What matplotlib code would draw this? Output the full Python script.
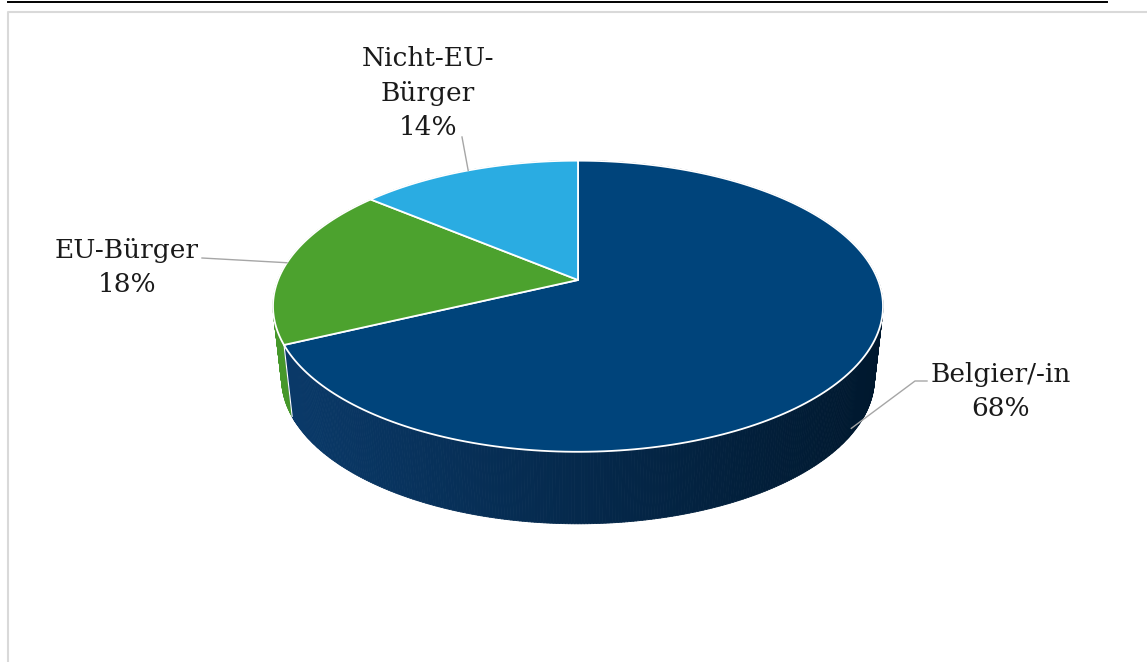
import numpy as np
import matplotlib.pyplot as plt
from matplotlib.collections import PolyCollection
from matplotlib.patches import Polygon
from matplotlib.colors import to_rgb

# share of residents by nationality (percent)
categories = ["Belgier/-in", "EU-Bürger", "Nicht-EU-Bürger"]
shares = [68, 18, 14]
label_lines = [["Belgier/-in"], ["EU-Bürger"], ["Nicht-EU-", "Bürger"]]

top_colors = ["#00447b", "#4ca22e", "#2aace2"]
side_colors = [("#0a3a6a", "#00182e"), ("#46982a", "#2f6e1c"), ("#2599cb", "#1a6e94")]

# label placement: centre x, first baseline, leader elbow, anchor height on the side
label_pos = [(1001, 382), (127, 258), (428, 66)]
leader_start = [[(927, 381), (915, 381)], [(202, 258)], [(462, 137)]]
anchor_drop = [0.9, 0.0, 0.0]

W, H = 1147, 662
fig = plt.figure(figsize=(W / 100, H / 100), dpi=100)
ax = fig.add_axes([0, 0, 1, 1])
ax.set_xlim(0, W)
ax.set_ylim(H, 0)
ax.axis("off")

# perspective of the 3-D pie
CX, CY = 578, 280
FOCAL, DIST, TILT = 1470.0, 4.9, np.radians(28)
DEPTH, SHRINK = 72.0, 0.972


def rim(theta):
    # point on the top rim, theta in degrees clockwise from 12 o'clock
    t = np.radians(theta)
    X, Z = np.sin(t), np.cos(t)
    z = DIST + np.cos(TILT) * Z
    return CX + FOCAL * X / z, CY - FOCAL * np.sin(TILT) * Z / z


def base(theta):
    x, y = rim(theta)
    return CX + (x - CX) * SHRINK, y + DEPTH


def mix(c1, c2, t):
    a, b = np.array(to_rgb(c1)), np.array(to_rgb(c2))
    return a + (b - a) * np.clip(t, 0, 1)


bounds = np.concatenate([[0], np.cumsum(shares)]) / sum(shares) * 360

# side walls, back slices first
for i in [2, 1, 0]:
    a, b = bounds[i], bounds[i + 1]
    th = np.append(np.arange(a, b, 0.5), b)
    tx, ty = rim(th)
    bx, by = base(th)
    quads, cols = [], []
    for k in range(len(th) - 1):
        quads.append([(tx[k], ty[k]), (tx[k + 1], ty[k + 1]),
                      (bx[k + 1], by[k + 1]), (bx[k], by[k])])
        frac = ((tx[k] + tx[k + 1]) / 2 - 272) / 612
        cols.append(mix(side_colors[i][0], side_colors[i][1], frac))
    pc = PolyCollection(quads, facecolors=cols, edgecolors=cols, linewidths=0.6)
    ax.add_collection(pc)

# white seam between the first two side walls
x0, y0 = rim(bounds[1])
x1, y1 = base(bounds[1])
ax.plot([x0, x1], [y0, y1], color="white", lw=0.8, solid_capstyle="butt")

# top face
for i in range(len(shares)):
    th = np.linspace(bounds[i], bounds[i + 1], 200)
    xs, ys = rim(th)
    pts = np.column_stack([np.append(CX, xs), np.append(CY, ys)])
    ax.add_patch(Polygon(pts, closed=True, facecolor=top_colors[i],
                         edgecolor="white", lw=1.3, joinstyle="round"))

# leader lines and labels
for i in range(len(shares)):
    mid = (bounds[i] + bounds[i + 1]) / 2
    tx, ty = rim(mid)
    bx, by = base(mid)
    ax_ = tx + (bx - tx) * anchor_drop[i]
    ay_ = ty + (by - ty) * anchor_drop[i]
    path = leader_start[i] + [(ax_, ay_)]
    ax.plot([p[0] for p in path], [p[1] for p in path], color="#a6a6a6", lw=1.0)

    cx, y = label_pos[i]
    for line in label_lines[i] + [f"{shares[i]}%"]:
        ax.text(cx, y, line, ha="center", va="baseline", fontsize=19,
                family="DejaVu Serif", color="#1a1a1a")
        y += 34.5

# chart frame and the rule of the heading above it
ax.plot([8, 8, W + 5], [H + 5, 12, 12], color="#d9d9d9", lw=1.5)
ax.plot([8, 1107], [2, 2], color="black", lw=1.4)

fig.savefig("out.png", dpi=100)
